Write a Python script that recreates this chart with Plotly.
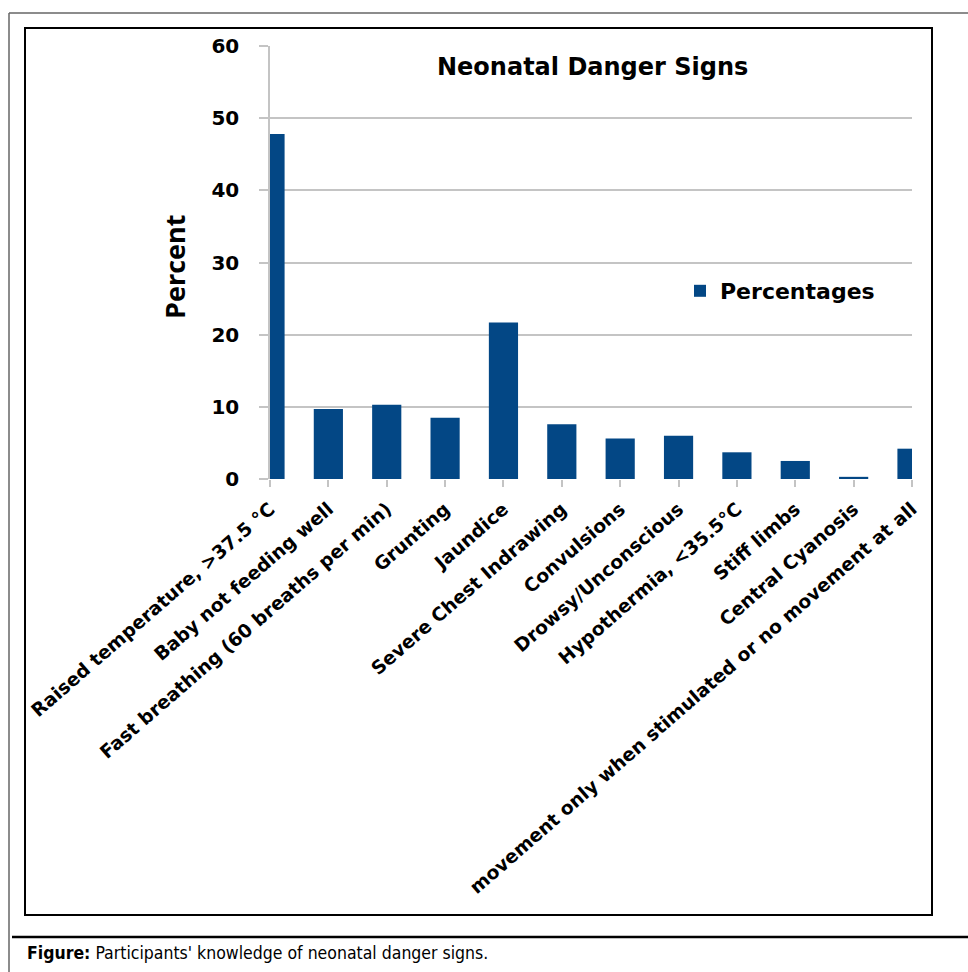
import plotly.graph_objects as go

categories = [
    "Raised temperature, >37.5 °C",
    "Baby not feeding well",
    "Fast breathing (60 breaths per min)",
    "Grunting",
    "Jaundice",
    "Severe Chest Indrawing",
    "Convulsions",
    "Drowsy/Unconscious",
    "Hypothermia, <35.5°C",
    "Stiff limbs",
    "Central Cyanosis",
    "movement only when stimulated or no movement at all",
]
percentages = [47.8, 9.7, 10.3, 8.5, 21.7, 7.6, 5.6, 6.0, 3.7, 2.5, 0.3, 4.2]
y_ticks = [0, 10, 20, 30, 40, 50, 60]

W, H = 968, 972
L, R, T, B = 270, 56, 46, 493
PW, PH = W - L - R, H - T - B


def fx(px):
    return (px - L) / PW


def fy(py):
    return (H - B - py) / PH


BAR = "#034785"
GRID = "#c4c4c4"
BOLD = "DejaVu Sans"

fig = go.Figure()
fig.add_trace(go.Bar(
    x=list(range(len(categories))),
    y=percentages,
    name="Percentages",
    marker=dict(color=BAR, line=dict(width=0)),
    width=0.5,
))

fig.update_layout(
    width=W, height=H,
    margin=dict(l=L, r=R, t=T, b=B),
    paper_bgcolor="white",
    plot_bgcolor="white",
    font=dict(family=BOLD, color="black"),
    showlegend=True,
    legend=dict(
        x=fx(680), y=fy(291), xanchor="left", yanchor="middle",
        font=dict(family=BOLD, size=22, color="black", weight="bold"),
        bgcolor="rgba(0,0,0,0)",
    ),
    xaxis=dict(
        range=[0, len(categories) - 1],
        tickmode="array",
        tickvals=list(range(len(categories))),
        ticktext=categories,
        tickangle=-41,
        tickfont=dict(family=BOLD, size=18.7, color="black", weight="bold"),
        ticks="outside", ticklen=7, tickcolor=GRID, tickwidth=1.5,
        ticklabelstandoff=4,
        showgrid=False, showline=False, zeroline=False,
    ),
    yaxis=dict(
        range=[0, 60],
        tickmode="array",
        tickvals=y_ticks,
        tickfont=dict(family=BOLD, size=20, color="black", weight="bold"),
        ticks="outside", ticklen=9, tickcolor=GRID, tickwidth=1.5,
        ticklabelstandoff=16,
        showgrid=True, gridcolor=GRID, gridwidth=1.5,
        showline=True, linecolor=GRID, linewidth=1.5,
        zeroline=False,
    ),
)

annotations = [
    dict(text="<b>Neonatal Danger Signs</b>", x=fx(592), y=fy(67),
         xref="paper", yref="paper", xanchor="center", yanchor="middle",
         showarrow=False, font=dict(family=BOLD, size=24, color="black")),
    dict(text="<b>Percent</b>", x=fx(174), y=fy(267), textangle=-90,
         xref="paper", yref="paper", xanchor="center", yanchor="middle",
         showarrow=False, font=dict(family="Open Sans", size=27, color="black")),
    dict(text="<b>Figure:</b> Participants' knowledge of neonatal danger signs.",
         x=fx(25), y=fy(953), xref="paper", yref="paper",
         xanchor="left", yanchor="middle", showarrow=False,
         font=dict(family="DejaVu Sans Condensed, Liberation Sans Narrow, Liberation Sans",
                   size=17.5, color="black")),
]
fig.update_layout(annotations=annotations)

shapes = [
    # outer gray frame (top and left)
    dict(type="line", xref="paper", yref="paper", x0=fx(9), x1=fx(970), y0=fy(13), y1=fy(13),
         line=dict(color="#666666", width=1.5)),
    dict(type="line", xref="paper", yref="paper", x0=fx(9), x1=fx(9), y0=fy(13), y1=fy(975),
         line=dict(color="#666666", width=1.5)),
    # inner black box
    dict(type="rect", xref="paper", yref="paper", x0=fx(25), x1=fx(932), y0=fy(28), y1=fy(915),
         line=dict(color="black", width=2)),
    # caption separator
    dict(type="line", xref="paper", yref="paper", x0=fx(12), x1=fx(970), y0=fy(937), y1=fy(937),
         line=dict(color="black", width=2.5)),
]
fig.update_layout(shapes=shapes)

fig.write_html(
    "out.html",
    config={"displayModeBar": False},
    post_script="document.body.style.margin='0';document.body.style.overflow='hidden';",
)
